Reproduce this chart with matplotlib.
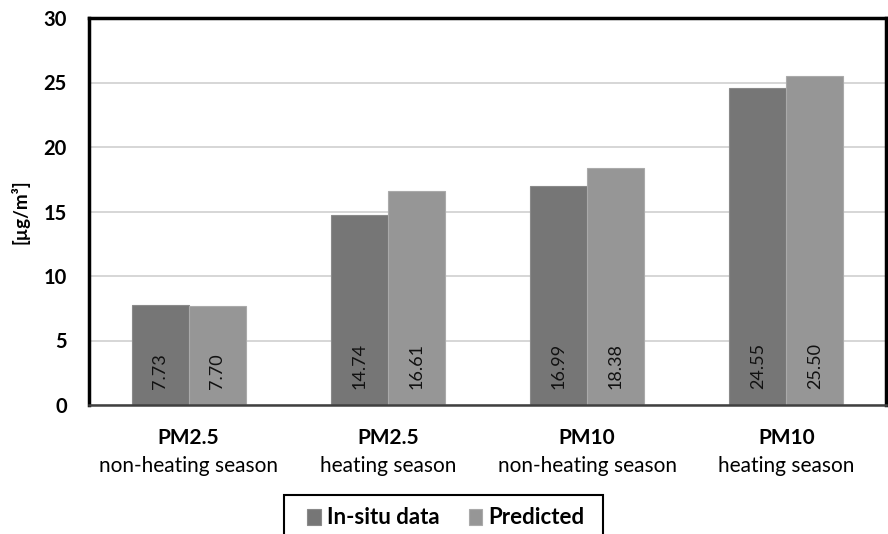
import numpy as np
import matplotlib.pyplot as plt
from matplotlib.patches import Rectangle

plt.rcParams["font.family"] = ["Lato", "DejaVu Sans"]

# 分组与数值
groups_top = ["PM2.5", "PM2.5", "PM10", "PM10"]
groups_bottom = ["non-heating season", "heating season", "non-heating season", "heating season"]
insitu = [7.73, 14.74, 16.99, 24.55]
predicted = [7.70, 16.61, 18.38, 25.50]
series_names = ["In-situ data", "Predicted"]
yticks = [0, 5, 10, 15, 20, 25, 30]

fig = plt.figure(figsize=(8.88, 5.34), dpi=100)
ax = fig.add_axes([89 / 888, 1 - 405 / 534, 797 / 888, 387 / 534])

x = np.arange(len(insitu))
w = 0.286
b1 = ax.bar(x - w / 2, insitu, w, color="#767676", edgecolor="#8a8a8a", linewidth=0.8,
            label=series_names[0], zorder=3)
b2 = ax.bar(x + w / 2, predicted, w, color="#969696", edgecolor="#aaaaaa", linewidth=0.8,
            label=series_names[1], zorder=3)

# 柱内数值标签（竖排）
for bars, vals in [(b1, insitu), (b2, predicted)]:
    for r, v in zip(bars, vals):
        ax.text(r.get_x() + r.get_width() / 2, 1.25, f"{v:.2f}", rotation=90,
                ha="center", va="bottom", fontsize=13, color="#111111", zorder=4)

ax.set_xlim(-0.5, len(insitu) - 0.5)
ax.set_ylim(0, 30)
ax.set_yticks(yticks)
ax.set_yticklabels([str(t) for t in yticks], fontsize=14.5, fontweight="bold")
ax.tick_params(axis="y", length=0, pad=16)
ax.set_xticks([])
ax.grid(axis="y", color="#d0d0d0", linewidth=1.2, zorder=0)

for s in ["left", "top", "right"]:
    ax.spines[s].set_linewidth(2.5)
    ax.spines[s].set_color("black")
ax.spines["bottom"].set_linewidth(1.8)
ax.spines["bottom"].set_color("#404040")
ax.spines["bottom"].set_zorder(5)

# 两行类别标签：第一行加粗
tr = ax.get_xaxis_transform()
for i in range(len(insitu)):
    ax.text(x[i], -0.085, groups_top[i], transform=tr, ha="center", va="center",
            fontsize=15, fontweight="bold")
    ax.text(x[i], -0.158, groups_bottom[i], transform=tr, ha="center", va="center",
            fontsize=15)

ax.text(-0.087, 0.5, "[µg/m³]", transform=ax.transAxes, rotation=90,
        ha="center", va="center", fontsize=13.5, fontweight="bold")

# 图例外框（底部被裁掉）
fig.patches.append(Rectangle((284 / 888, -0.05), 319 / 888, 0.05 + 39 / 534,
                             transform=fig.transFigure, fill=False,
                             edgecolor="black", linewidth=1.5))
fig.legend(handles=[b1, b2], loc="center", bbox_to_anchor=(446 / 888, 1 - 518 / 534),
           ncol=2, frameon=False, prop={"size": 16, "weight": "bold"},
           handlelength=0.6, handleheight=0.75, handletextpad=0.3, columnspacing=1.3)

fig.savefig("out.png", dpi=100)
